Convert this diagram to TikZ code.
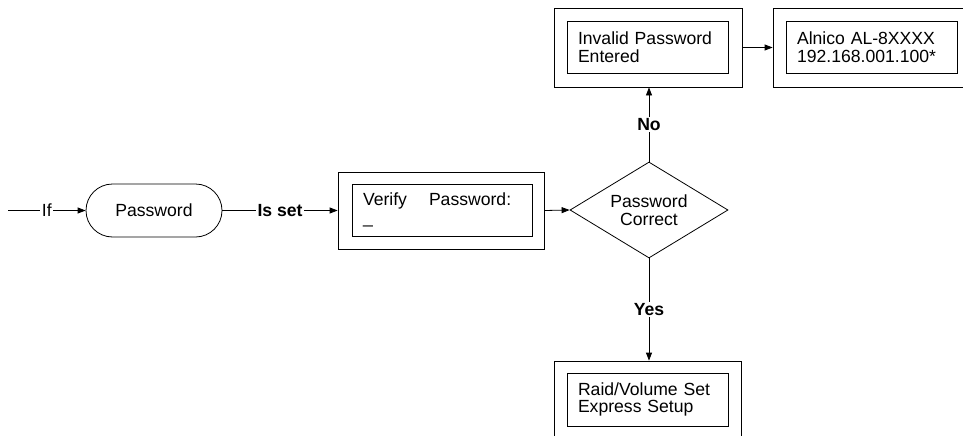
\documentclass[tikz,border=0pt]{standalone}
\usepackage{fontspec}
\setmainfont{Liberation Sans}
\usetikzlibrary{arrows.meta,shapes.geometric}
\newcommand\dfont{\fontsize{17.6}{17.5}\selectfont}
\begin{document}
\begin{tikzpicture}[x=1pt,y=-1pt,
  every node/.style={font=\dfont},
  frame/.style={draw, line width=0.8pt, inner sep=0pt},
  innerbox/.style={draw, line width=0.8pt, align=left, inner xsep=11pt, inner ysep=0pt},
  lab/.style={fill=white, inner sep=1.5pt},
  blab/.style={fill=white, inner sep=1.5pt, font=\dfont\bfseries},
  arr/.style={-{Triangle[length=8pt,width=6pt]}, line width=0.8pt}]
\clip (0,0) rectangle (963,436);
% Verify box
\node[frame, minimum width=206pt, minimum height=77pt] (vo) at (441,210.5) {};
\node[innerbox, text width=158pt, minimum height=52pt] (vi) at (442,210) {Verify\hspace{22pt}Password:\\\_};
% Invalid box
\node[frame, minimum width=188pt, minimum height=79pt] (io) at (648,47.5) {};
\node[innerbox, text width=139pt, minimum height=52pt] (ii) at (647.5,47) {Invalid Password\\Entered};
% Alnico box
\node[frame, minimum width=202pt, minimum height=79pt] (ao) at (874,47.5) {};
\node[innerbox, text width=149pt, minimum height=52pt] (ai) at (871.5,47) {Alnico AL-8XXXX\\192.168.001.100*};
% Raid box
\node[frame, minimum width=187pt, minimum height=79pt] (bo) at (647.5,400.5) {};
\node[innerbox, text width=139pt, minimum height=53pt] (bi) at (647.5,399.5) {Raid/Volume Set\\Express Setup};
% Password terminator
\node[draw, line width=0.8pt, rounded corners=26.5pt, minimum width=136pt, minimum height=53pt] (pw) at (154,210.5) {Password};
% Decision
\node[draw, line width=0.8pt, diamond, aspect=1.646, minimum width=158pt, minimum height=96pt, inner sep=0pt, align=center] (pc) at (649,210) {Password\\Correct};
% connectors
\coordinate (s) at (8,210.5);
\draw[arr] (s) -- node[lab]{If} (pw.west);
\draw[arr] (pw.east) -- node[blab]{Is set} (vo.west);
\draw[arr] (vo.east) -- (pc.west);
\draw[arr] (pc.north) -- node[blab]{No} (pc.north |- io.south);
\draw[arr] (io.east) -- (ao.west);
\draw[arr] (pc.south) -- node[blab]{Yes} (pc.south |- bo.north);
\end{tikzpicture}
\end{document}
